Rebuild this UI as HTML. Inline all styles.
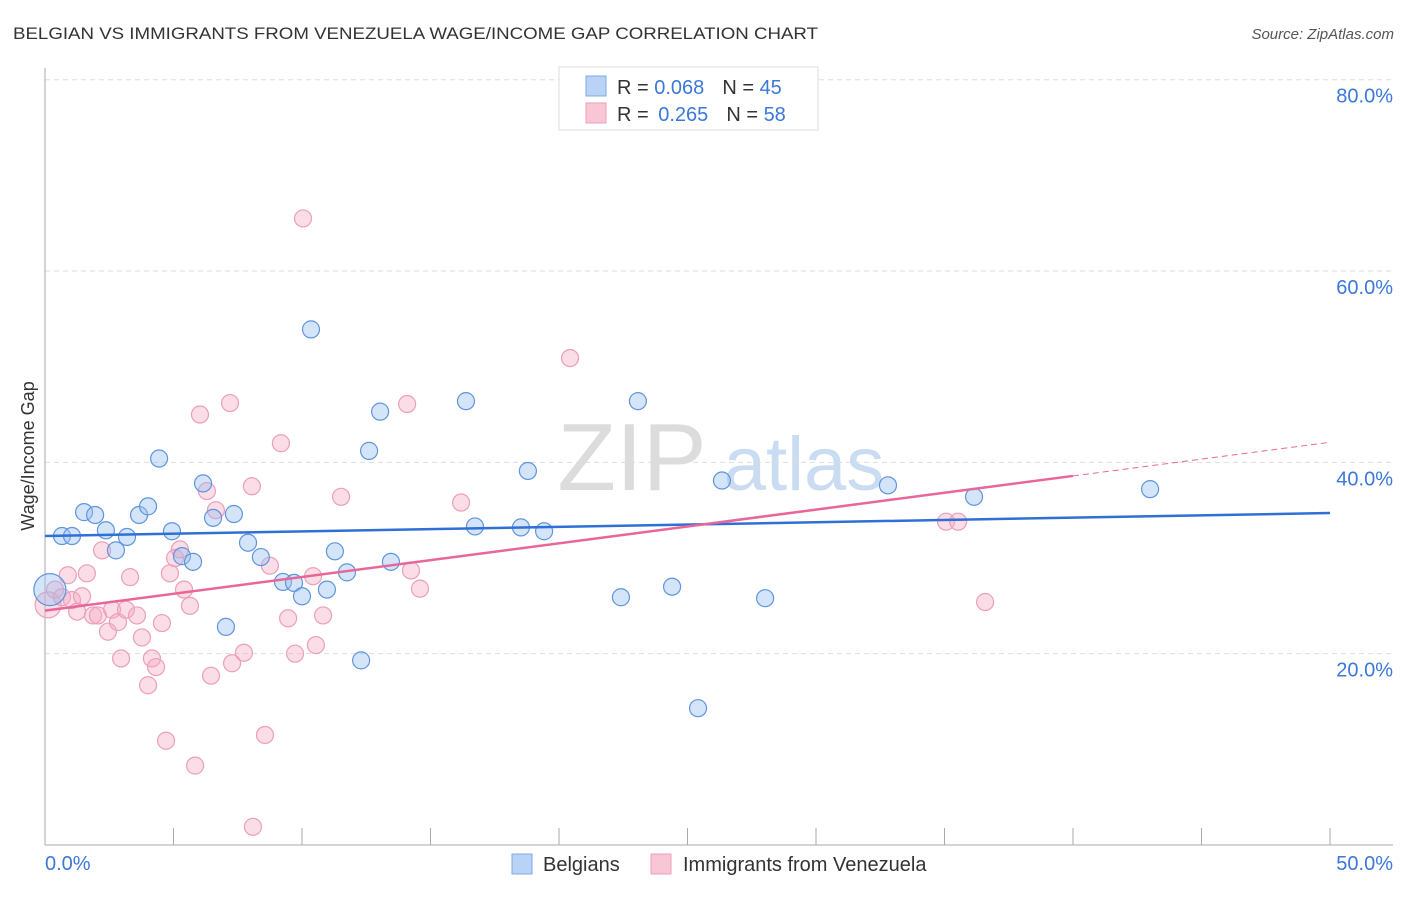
<!DOCTYPE html>
<html><head><meta charset="utf-8">
<style>
body{margin:0;background:#fff;font-family:"Liberation Sans",sans-serif;}
svg text{font-family:"Liberation Sans",sans-serif;}
</style></head>
<body>
<svg id="chart" width="1406" height="892" xmlns="http://www.w3.org/2000/svg">
<text x="13" y="39" font-size="17" fill="#333" textLength="805" lengthAdjust="spacingAndGlyphs">BELGIAN VS IMMIGRANTS FROM VENEZUELA WAGE/INCOME GAP CORRELATION CHART</text>
<text x="1394" y="39" font-size="15" fill="#555" text-anchor="end" font-style="italic">Source: ZipAtlas.com</text>
<text transform="translate(34,456) rotate(-90)" font-size="18" fill="#333" text-anchor="middle">Wage/Income Gap</text>
<g>
<text x="632" y="490" font-size="96" fill="#dcdcdc" font-family="Liberation Serif" text-anchor="middle">ZIP</text>
<text x="804" y="490" font-size="76" fill="#c9dcf2" text-anchor="middle">atlas</text>
</g>
<g id="grid"></g>
<g id="axes"></g>
<g id="points"></g>
<g id="trends"></g>
<g>
<rect x="559" y="67" width="259" height="63" fill="#fff" stroke="#ddd"/>
<rect x="586" y="76" width="20" height="20" fill="#b8d3f5" stroke="#7fa9e3"/>
<rect x="586" y="103" width="20" height="20" fill="#f9c6d5" stroke="#ec9fb8"/>
<text x="617" y="94" font-size="20" fill="#333">R = <tspan fill="#3b78d8">0.068</tspan><tspan dx="18">N = </tspan><tspan fill="#3b78d8">45</tspan></text>
<text x="617" y="121" font-size="20" fill="#333">R = <tspan fill="#3b78d8" dx="4">0.265</tspan><tspan dx="18">N = </tspan><tspan fill="#3b78d8">58</tspan></text>
</g>
<g>
<rect x="512" y="854" width="20" height="20" fill="#b8d3f5" stroke="#7fa9e3"/>
<text x="543" y="871" font-size="20" fill="#333">Belgians</text>
<rect x="651" y="854" width="20" height="20" fill="#f9c6d5" stroke="#ec9fb8"/>
<text x="683" y="871" font-size="20" fill="#333">Immigrants from Venezuela</text>
</g>
</svg>
<script>
const yTicks=[20,40,60,80];
const yTickLabels=["20.0%","40.0%","60.0%","80.0%"];
const xTickLabels=["0.0%","50.0%"];
const blueX=[0.19,0.66,1.05,1.52,1.95,2.37,2.76,3.19,3.66,4.01,4.44,4.94,5.33,5.76,6.15,6.54,7.04,7.35,7.90,8.40,9.26,9.69,10.0,10.35,10.97,11.28,11.75,12.30,12.61,13.04,13.46,16.38,16.73,18.52,18.79,19.42,22.41,23.07,24.40,25.41,26.34,28.02,32.80,36.15,43.0];
const blueY=[26.7,32.3,32.3,34.8,34.5,32.9,30.8,32.2,34.5,35.4,40.4,32.8,30.2,29.6,37.8,34.2,22.8,34.6,31.6,30.1,27.5,27.4,26.0,53.9,26.7,30.7,28.5,19.3,41.2,45.3,29.6,46.4,33.3,33.2,39.1,32.8,25.9,46.4,27.0,14.3,38.1,25.8,37.6,36.4,37.2];
const pinkX=[0.12,0.39,0.66,0.89,1.05,1.25,1.44,1.63,1.87,2.06,2.22,2.45,2.61,2.84,2.96,3.15,3.31,3.58,3.77,4.01,4.16,4.32,4.55,4.71,4.86,5.06,5.25,5.41,5.64,5.84,6.03,6.30,6.46,6.65,7.20,7.28,7.74,8.05,8.09,8.56,8.75,9.18,9.46,9.73,10.04,10.43,10.54,10.82,11.52,14.09,14.24,14.59,16.19,20.43,35.06,35.53,36.58];
const pinkY=[25.1,26.7,25.9,28.2,25.6,24.4,26.0,28.4,24.0,24.0,30.8,22.3,24.6,23.3,19.5,24.6,28.0,24.0,21.7,16.7,19.5,18.6,23.2,10.9,28.4,30.0,30.9,26.7,25.0,8.3,45.0,37.0,17.7,35.0,46.2,19.0,20.1,37.5,1.9,11.5,29.2,42.0,23.7,20.0,65.5,28.1,20.9,24.0,36.4,46.1,28.7,26.8,35.8,50.9,33.8,33.8,25.4];
const blueTrend=[32.3,34.7];   // y at x=0 and x=50
const pinkTrend=[24.5,42.1];   // y at x=0 and x=50
const pinkSolidEnd=40;

const NS="http://www.w3.org/2000/svg";
const X=v=>45+v*25.7;
const Y=v=>845-v*9.566;
function mk(tag,attrs,parent){const e=document.createElementNS(NS,tag);for(const k in attrs)e.setAttribute(k,attrs[k]);parent.appendChild(e);return e;}
const grid=document.getElementById('grid'),axes=document.getElementById('axes'),pts=document.getElementById('points'),tr=document.getElementById('trends');
yTicks.forEach((t,i)=>{
  const l=mk('line',{x1:45,x2:1393,y1:Y(t),y2:Y(t),stroke:'#ddd','stroke-dasharray':'5,4'},grid);
  
  
  const tx=mk('text',{x:1393,y:Y(t)+23,'font-size':20,fill:'#3b78d8','text-anchor':'end'},grid);
  tx.textContent=yTickLabels[i];
  
  
});
const ax=mk('line',{x1:45,x2:1393,y1:845,y2:845,stroke:'#aaa'},axes);


const ay=mk('line',{x1:45,x2:45,y1:68,y2:845,stroke:'#aaa'},axes);


for(let v=5;v<=50;v+=5){
  const t=mk('line',{x1:X(v),x2:X(v),y1:828,y2:845,stroke:'#aaa'},axes);
  
  
}
[[0,'start'],[50,'end']].forEach((p,i)=>{
  const t=mk('text',{x:i?1393:45,y:870,'font-size':20,fill:'#3b78d8','text-anchor':p[1]},axes);
  t.textContent=xTickLabels[i];
  
  
});
pinkX.forEach((x,i)=>{
  const c=mk('circle',{cx:X(x),cy:Y(pinkY[i]),r:i===0?13:8.5,fill:'rgba(245,170,195,0.4)',stroke:'#ec9fb8','stroke-width':1.2},pts);
  
  
});
blueX.forEach((x,i)=>{
  const c=mk('circle',{cx:X(x),cy:Y(blueY[i]),r:i===0?16:8.5,fill:'rgba(150,190,240,0.4)',stroke:'#5f95dd','stroke-width':1.2},pts);
  
  
});
const bt=mk('line',{x1:X(0),y1:Y(blueTrend[0]),x2:X(50),y2:Y(blueTrend[1]),stroke:'#2f6fd6','stroke-width':2.5},tr);


const pyAt=x=>pinkTrend[0]+(pinkTrend[1]-pinkTrend[0])*x/50;
const pt=mk('line',{x1:X(0),y1:Y(pinkTrend[0]),x2:X(pinkSolidEnd),y2:Y(pyAt(pinkSolidEnd)),stroke:'#e8669a','stroke-width':2.5},tr);


const pd=mk('line',{x1:X(pinkSolidEnd),y1:Y(pyAt(pinkSolidEnd)),x2:X(50),y2:Y(pinkTrend[1]),stroke:'#e8669a','stroke-width':1,'stroke-dasharray':'6,4'},tr);


</script>
</body></html>
